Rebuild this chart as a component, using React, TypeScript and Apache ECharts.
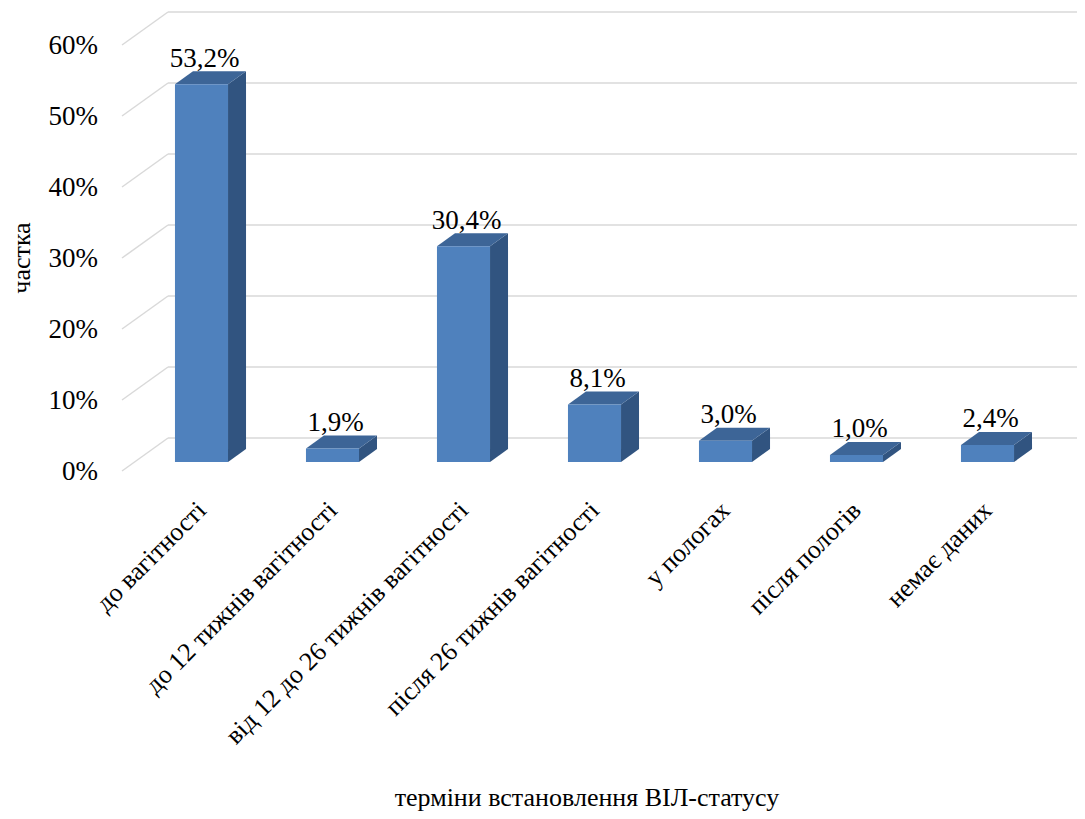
import React, { useEffect, useRef } from "react";
import * as echarts from "echarts";

// Timing of HIV status determination: share of cases per period, %
const categories = [
  "до вагітності",
  "до 12 тижнів вагітності",
  "від 12 до 26 тижнів вагітності",
  "після 26 тижнів вагітності",
  "у пологах",
  "після пологів",
  "немає даних",
];
const shares = [53.2, 1.9, 30.4, 8.1, 3.0, 1.0, 2.4];
const yTicks = [0, 10, 20, 30, 40, 50, 60];

const yName = "частка";
const xName = "терміни встановлення ВІЛ-статусу";

const FONT = "Liberation Serif";
const GRID_COLOR = "#d9d9d9";
const FRONT = "#4f81bd";
const TOP = "#3d6597";
const SIDE = "#315480";

// oblique projection: wall -> front edge of the floor, and bar depth
const WALL_TO_FRONT = [-46, 33];
const BAR_DEPTH = [18, -13];

const fmt = (v: number) => v.toFixed(1).replace(".", ",") + "%";

const hiddenCat = (gridIndex: number) => ({
  type: "category",
  gridIndex,
  data: categories,
  axisLine: { show: false },
  axisTick: { show: false },
  axisLabel: { show: false },
  splitLine: { show: false },
});

const valueAxis = (gridIndex: number) => ({
  type: "value",
  gridIndex,
  min: 0,
  max: 60,
  interval: 10,
  axisLine: { show: false },
  axisTick: { show: false },
  axisLabel: { show: false },
  splitLine: { show: false },
});

const option: any = {
  animation: false,
  grid: [
    // back wall
    { left: 168, top: 12, width: 917, height: 426 },
    // front edge of the floor (tick labels)
    { left: 122, top: 45, width: 917, height: 426 },
    // plane of the columns' front faces
    { left: 136, top: 36, width: 917, height: 426 },
  ],
  xAxis: [
    hiddenCat(0),
    hiddenCat(1),
    {
      ...hiddenCat(2),
      axisLabel: {
        show: true,
        interval: 0,
        rotate: 45,
        margin: 44,
        fontFamily: FONT,
        fontSize: 26,
        color: "#000",
      },
    },
  ],
  yAxis: [
    {
      ...valueAxis(0),
      splitLine: { show: true, lineStyle: { color: GRID_COLOR, width: 1.5 } },
    },
    {
      ...valueAxis(1),
      axisLabel: {
        show: true,
        margin: 24,
        formatter: "{value}%",
        fontFamily: FONT,
        fontSize: 27,
        color: "#000",
      },
    },
    valueAxis(2),
  ],
  graphic: [
    {
      type: "text",
      x: 587,
      y: 797,
      style: { text: xName, fontFamily: FONT, fontSize: 26, fill: "#000", align: "center", verticalAlign: "middle" },
    },
    {
      type: "text",
      x: 21,
      y: 258,
      rotation: Math.PI / 2,
      style: { text: yName, fontFamily: FONT, fontSize: 26, fill: "#000", align: "center", verticalAlign: "middle" },
    },
  ],
  series: [
    {
      // floor/side-wall diagonals from each wall gridline to the front edge
      type: "custom",
      xAxisIndex: 0,
      yAxisIndex: 0,
      data: yTicks.map((v) => [0, v]),
      silent: true,
      renderItem: (params: any, api: any) => {
        const y = api.coord([0, api.value(1)])[1];
        const x = params.coordSys.x;
        return {
          type: "line",
          shape: { x1: x, y1: y, x2: x + WALL_TO_FRONT[0], y2: y + WALL_TO_FRONT[1] },
          style: { stroke: GRID_COLOR, lineWidth: 1.5 },
        };
      },
    },
    {
      // 3D columns with value labels
      type: "custom",
      xAxisIndex: 2,
      yAxisIndex: 2,
      data: shares.map((v, i) => [i, v]),
      renderItem: (_params: any, api: any) => {
        const i = api.value(0);
        const v = api.value(1);
        const top = api.coord([i, v]);
        const base = api.coord([i, 0]);
        const w = api.size([1, 0])[0] * 0.405;
        const x0 = top[0] - w / 2;
        const x1 = top[0] + w / 2;
        const yt = top[1];
        const yb = base[1];
        const [dx, dy] = BAR_DEPTH;
        return {
          type: "group",
          children: [
            {
              type: "polygon",
              shape: { points: [[x1, yt], [x1 + dx, yt + dy], [x1 + dx, yb + dy], [x1, yb]] },
              style: { fill: SIDE },
            },
            {
              type: "polygon",
              shape: { points: [[x0, yt], [x1, yt], [x1 + dx, yt + dy], [x0 + dx, yt + dy]] },
              style: { fill: TOP },
            },
            {
              type: "rect",
              shape: { x: x0, y: yt, width: w, height: yb - yt },
              style: { fill: FRONT },
            },
            {
              type: "text",
              x: top[0] + 3,
              y: yt + dy,
              style: {
                text: fmt(v),
                fontFamily: FONT,
                fontSize: 27,
                fill: "#000",
                align: "center",
                verticalAlign: "bottom",
              },
            },
          ],
        };
      },
    },
  ],
};

function Chart() {
  const ref = useRef<HTMLDivElement>(null);
  useEffect(() => {
    if (!ref.current) return;
    const chart = echarts.init(ref.current, undefined, { renderer: "svg" });
    chart.setOption(option);
    return () => chart.dispose();
  }, []);
  return <div ref={ref} style={{ width: 1085, height: 819, margin: "-8px 0 0 -8px" }} />;
}

export default function App() {
  return <Chart />;
}
